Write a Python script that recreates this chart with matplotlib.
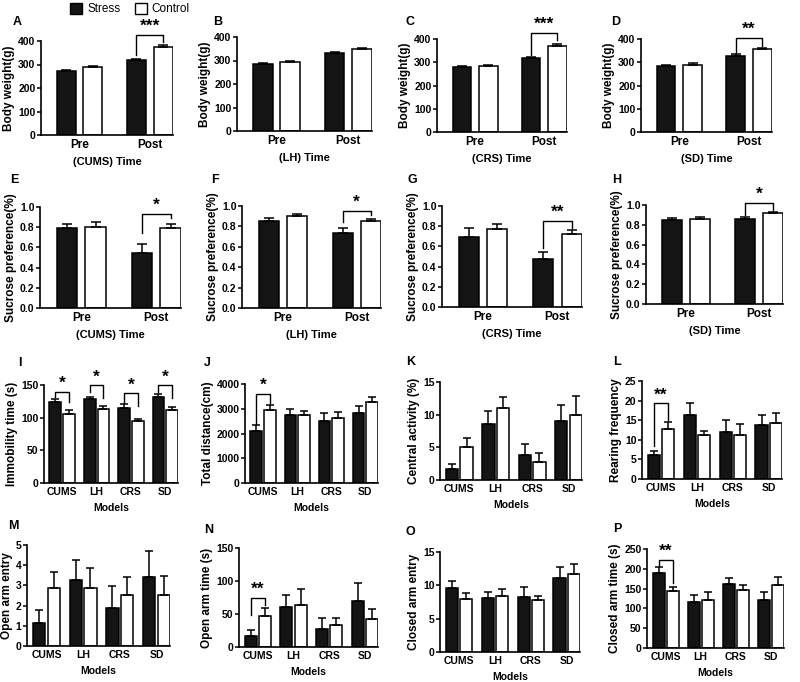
import numpy as np
import matplotlib
matplotlib.use('Agg')
import matplotlib.pyplot as plt
from matplotlib.patches import Rectangle
from matplotlib.ticker import FormatStrFormatter

plt.rcParams['font.family'] = ['Liberation Sans', 'DejaVu Sans']
plt.rcParams['font.weight'] = 'bold'
plt.rcParams['axes.labelweight'] = 'bold'

W, H = 800, 682

time_groups = ['Pre', 'Post']
model_groups = ['CUMS', 'LH', 'CRS', 'SD']

# body weight (g), mean and SEM, stress vs control
bw_cums_s, bw_cums_s_se = [273, 318], [4, 5]
bw_cums_c, bw_cums_c_se = [290, 376], [5, 8]
bw_lh_s, bw_lh_s_se = [285, 332], [3, 5]
bw_lh_c, bw_lh_c_se = [292, 347], [5, 8]
bw_crs_s, bw_crs_s_se = [278, 317], [8, 6]
bw_crs_c, bw_crs_c_se = [284, 370], [5, 8]
bw_sd_s, bw_sd_s_se = [282, 327], [6, 8]
bw_sd_c, bw_sd_c_se = [290, 356], [5, 6]

# sucrose preference
sp_cums_s, sp_cums_s_se = [0.79, 0.54], [0.04, 0.09]
sp_cums_c, sp_cums_c_se = [0.80, 0.79], [0.05, 0.04]
sp_lh_s, sp_lh_s_se = [0.85, 0.74], [0.03, 0.04]
sp_lh_c, sp_lh_c_se = [0.90, 0.85], [0.02, 0.02]
sp_crs_s, sp_crs_s_se = [0.69, 0.48], [0.09, 0.06]
sp_crs_c, sp_crs_c_se = [0.77, 0.72], [0.05, 0.04]
sp_sd_s, sp_sd_s_se = [0.85, 0.86], [0.02, 0.02]
sp_sd_c, sp_sd_c_se = [0.86, 0.92], [0.02, 0.01]

# behaviour tests per model (CUMS, LH, CRS, SD)
immob_s, immob_s_se = [124, 129, 115, 131], [5, 3, 6, 5]
immob_c, immob_c_se = [105, 113, 95, 112], [6, 5, 3, 4]
dist_s, dist_s_se = [2110, 2730, 2520, 2830], [240, 260, 310, 300]
dist_c, dist_c_se = [2940, 2730, 2610, 3270], [200, 170, 250, 200]
central_s, central_s_se = [1.7, 8.6, 3.8, 9.0], [0.8, 2.0, 1.7, 2.5]
central_c, central_c_se = [5.0, 11.0, 2.8, 10.0], [1.5, 1.7, 1.3, 2.9]
rear_s, rear_s_se = [6.2, 16.4, 12.1, 13.8], [1.0, 2.9, 3.0, 2.4]
rear_c, rear_c_se = [12.7, 11.3, 11.3, 14.4], [1.8, 1.0, 2.8, 2.4]
oae_s, oae_s_se = [1.12, 3.27, 1.86, 3.43], [0.66, 0.99, 1.13, 1.27]
oae_c, oae_c_se = [2.85, 2.85, 2.52, 2.52], [0.80, 1.00, 0.91, 0.96]
oat_s, oat_s_se = [16.6, 60.4, 27.7, 69.0], [9.1, 18.6, 15.6, 28.0]
oat_c, oat_c_se = [46.8, 62.9, 32.7, 41.8], [12.6, 25.1, 11.6, 16.1]
cae_s, cae_s_se = [9.66, 8.05, 8.3, 11.07], [1.0, 0.9, 1.4, 1.7]
cae_c, cae_c_se = [7.95, 8.4, 7.8, 11.7], [0.95, 1.0, 0.6, 1.5]
cat_s, cat_s_se = [189, 116, 162, 120], [15, 19, 15, 21]
cat_c, cat_c_se = [143, 120, 146, 159], [11, 21, 13, 20]

# significance brackets: group, bracket top, left leg end, right leg end, star level, label
sig_A = [(1, 424, 339, 396, 430, '***')]
sig_C = [(1, 426, 332, 397, 432, '***')]
sig_D = [(1, 404, 332, 368, 410, '**')]
sig_E = [(1, 0.93, 0.74, 0.89, 0.94, '*')]
sig_F = [(1, 0.95, 0.84, 0.91, 0.96, '*')]
sig_G = [(1, 0.85, 0.58, 0.78, 0.86, '**')]
sig_H = [(1, 1.02, 0.90, 0.95, 1.03, '*')]
sig_I = [(0, 140, 132, 124, 141, '*'), (1, 150, 140, 130, 151, '*'),
         (2, 137, 122, 118, 138, '*'), (3, 150, 140, 130, 151, '*')]
sig_J = [(0, 3610, 2400, 3230, 3640, '*')]
sig_L = [(0, 19.3, 8.3, 15.1, 19.5, '**')]
sig_N = [(0, 75, 48, 63, 76, '**')]
sig_P = [(0, 223, 206, 165, 225, '**')]

fig = plt.figure(figsize=(W / 100, H / 100), dpi=100)


def px_axes(left, right, top, bottom):
    return fig.add_axes([left / W, 1 - bottom / H, (right - left) / W, (bottom - top) / H])


def draw_panel(box, letter, letter_xy, groups, s, s_se, c, c_se, yticks, ylabel, xlabel,
               sig=(), fmt=None):
    ax = px_axes(*box)
    two = len(groups) == 2
    x = np.arange(len(groups))
    if two:
        width, off, cap, xlim = 0.27, 0.19, 3.6, (-0.55, 1.33)
        xfs, yfs = 8.5, 7.5
    else:
        width, off, cap, xlim = 0.34, 0.2, 2.8, (-0.53, 3.37)
        xfs, yfs = 7.5, 7.5
    ax.bar(x - off, s, width, color='#141414', edgecolor='black', linewidth=1.1, zorder=2)
    ax.bar(x + off, c, width, color='white', edgecolor='black', linewidth=1.1, zorder=2)
    ax.errorbar(x - off, s, yerr=[np.zeros(len(s)), s_se], fmt='none', ecolor='black',
                elinewidth=1.1, capsize=cap, capthick=1.1, zorder=3)
    ax.errorbar(x + off, c, yerr=[np.zeros(len(c)), c_se], fmt='none', ecolor='black',
                elinewidth=1.1, capsize=cap, capthick=1.1, zorder=3)
    ax.set_xlim(*xlim)
    ax.set_ylim(yticks[0], yticks[-1])
    ax.set_yticks(yticks)
    if fmt:
        ax.yaxis.set_major_formatter(FormatStrFormatter(fmt))
    ax.set_xticks(x)
    ax.set_xticklabels(groups, fontsize=xfs, fontweight='bold')
    ax.tick_params(axis='x', length=0, pad=3)
    ax.tick_params(axis='y', length=3, width=1.1, labelsize=yfs, pad=1)
    for lab in ax.get_yticklabels():
        lab.set_fontweight('bold')
    ax.spines['top'].set_visible(False)
    ax.spines['right'].set_visible(False)
    ax.spines['left'].set_linewidth(1.2)
    ax.spines['bottom'].set_linewidth(1.2)
    ax.set_ylabel(ylabel, fontsize=8.5, fontweight='bold', labelpad=2)
    ax.set_xlabel(xlabel, fontsize=8 if two else 7.5, fontweight='bold', labelpad=4)
    for g, top, lb, rb, star_y, label in sig:
        ax.plot([g - off, g - off, g + off, g + off], [lb, top, top, rb],
                color='black', lw=1.0, clip_on=False, zorder=4)
        ax.text(g, star_y, label, ha='center', va='bottom', fontsize=12.5,
                fontweight='bold', clip_on=False)
    fig.text(letter_xy[0] / W, 1 - letter_xy[1] / H, letter, fontsize=9,
             fontweight='bold', ha='left', va='center')
    return ax


# row 1: body weight
draw_panel((41, 173, 41, 135), 'A', (13, 22), time_groups, bw_cums_s, bw_cums_s_se,
           bw_cums_c, bw_cums_c_se, [0, 100, 200, 300, 400], 'Body weight(g)',
           '(CUMS) Time', sig_A)
draw_panel((237, 372, 37, 131), 'B', (213, 22), time_groups, bw_lh_s, bw_lh_s_se,
           bw_lh_c, bw_lh_c_se, [0, 100, 200, 300, 400], 'Body weight(g)', '(LH) Time')
draw_panel((437, 567, 39, 132), 'C', (406, 22), time_groups, bw_crs_s, bw_crs_s_se,
           bw_crs_c, bw_crs_c_se, [0, 100, 200, 300, 400], 'Body weight(g)',
           '(CRS) Time', sig_C)
draw_panel((641, 772, 39, 132), 'D', (611, 22), time_groups, bw_sd_s, bw_sd_s_se,
           bw_sd_c, bw_sd_c_se, [0, 100, 200, 300, 400], 'Body weight(g)',
           '(SD) Time', sig_D)

# row 2: sucrose preference
sp_ticks = [0.0, 0.2, 0.4, 0.6, 0.8, 1.0]
draw_panel((40, 181, 207, 308), 'E', (10, 180), time_groups, sp_cums_s, sp_cums_s_se,
           sp_cums_c, sp_cums_c_se, sp_ticks, 'Sucrose preference(%)', '(CUMS) Time',
           sig_E, '%.1f')
draw_panel((242, 381, 206, 308), 'F', (211, 180), time_groups, sp_lh_s, sp_lh_s_se,
           sp_lh_c, sp_lh_c_se, sp_ticks, 'Sucrose preference(%)', '(LH) Time',
           sig_F, '%.1f')
draw_panel((442, 582, 206, 307), 'G', (407, 180), time_groups, sp_crs_s, sp_crs_s_se,
           sp_crs_c, sp_crs_c_se, sp_ticks, 'Sucrose preference(%)', '(CRS) Time',
           sig_G, '%.1f')
draw_panel((646, 783, 205, 304), 'H', (612, 180), time_groups, sp_sd_s, sp_sd_s_se,
           sp_sd_c, sp_sd_c_se, sp_ticks, 'Sucrose preference(%)', '(SD) Time',
           sig_H, '%.1f')

# row 3
draw_panel((44, 178, 385, 483), 'I', (18, 363), model_groups, immob_s, immob_s_se,
           immob_c, immob_c_se, [0, 50, 100, 150], 'Immobility time (s)', 'Models', sig_I)
draw_panel((245, 378, 384, 483), 'J', (204, 363), model_groups, dist_s, dist_s_se,
           dist_c, dist_c_se, [0, 1000, 2000, 3000, 4000], 'Total distance(cm)',
           'Models', sig_J)
draw_panel((440, 582, 382, 480), 'K', (406, 362), model_groups, central_s, central_s_se,
           central_c, central_c_se, [0, 5, 10, 15], 'Central activity (%)', 'Models')
draw_panel((642, 782, 381, 479), 'L', (613, 362), model_groups, rear_s, rear_s_se,
           rear_c, rear_c_se, [0, 5, 10, 15, 20, 25], 'Rearing frequency', 'Models', sig_L)

# row 4
draw_panel((27, 170, 545, 646), 'M', (8, 526), model_groups, oae_s, oae_s_se,
           oae_c, oae_c_se, [0, 1, 2, 3, 4, 5], 'Open arm entry', 'Models')
draw_panel((239, 378, 548, 647), 'N', (204, 530), model_groups, oat_s, oat_s_se,
           oat_c, oat_c_se, [0, 50, 100, 150], 'Open arm time (s)', 'Models', sig_N)
draw_panel((440, 580, 552, 652), 'O', (406, 532), model_groups, cae_s, cae_s_se,
           cae_c, cae_c_se, [0, 5, 10, 15], 'Closed arm entry', 'Models')
draw_panel((647, 784, 549, 648), 'P', (613, 529), model_groups, cat_s, cat_s_se,
           cat_c, cat_c_se, [0, 50, 100, 150, 200, 250], 'Closed arm time (s)',
           'Models', sig_P)

# legend at the top
fig.patches.append(Rectangle((70 / W, 1 - 14 / H), 12 / W, 11 / H, transform=fig.transFigure,
                             facecolor='#141414', edgecolor='black', lw=1.0))
fig.text(87 / W, 1 - 8.5 / H, 'Stress', fontsize=8.5, fontweight='normal',
         ha='left', va='center')
fig.patches.append(Rectangle((135 / W, 1 - 14 / H), 12 / W, 11 / H, transform=fig.transFigure,
                             facecolor='white', edgecolor='black', lw=1.0))
fig.text(151 / W, 1 - 8.5 / H, 'Control', fontsize=8.5, fontweight='normal',
         ha='left', va='center')

fig.savefig('out.png', dpi=100)
